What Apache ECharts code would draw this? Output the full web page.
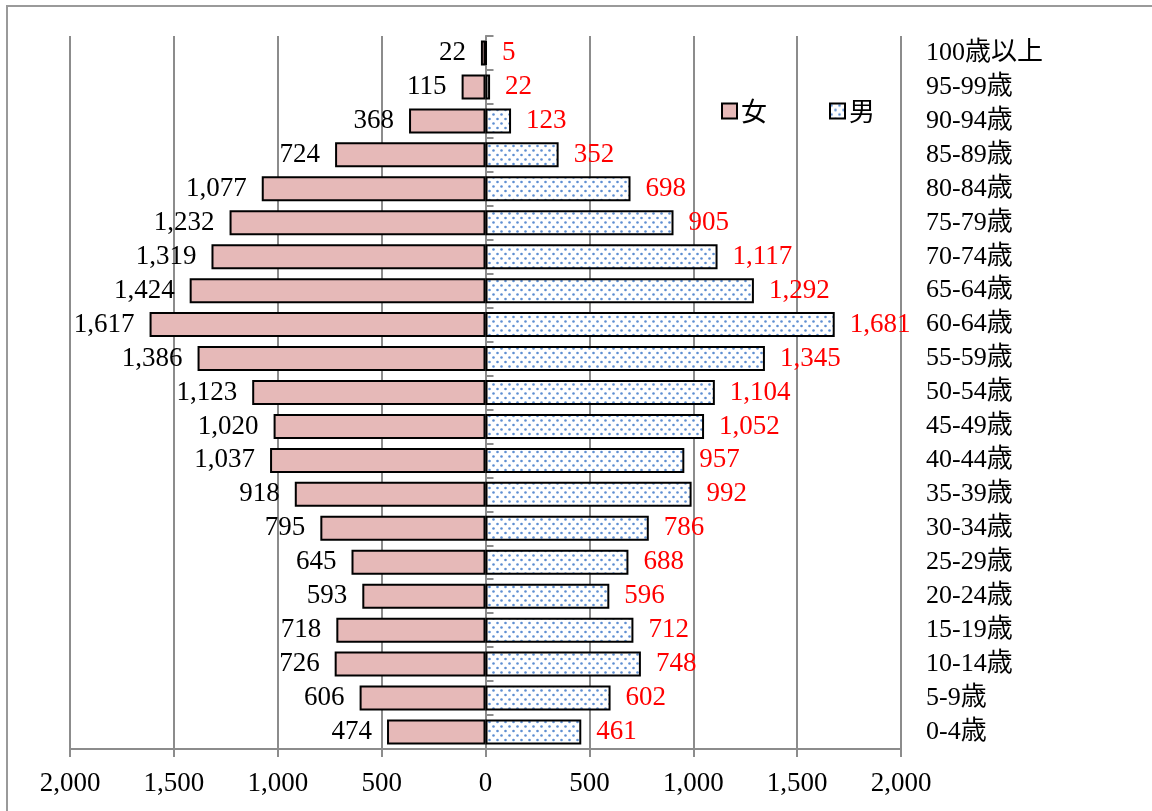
<!DOCTYPE html>
<html>
<head>
<meta charset="utf-8">
<style>
  html, body { margin: 0; padding: 0; background: #fff; }
  #chart { width: 1152px; height: 811px; }
</style>
<script src="https://cdn.jsdelivr.net/npm/echarts@6/dist/echarts.min.js"></script>
</head>
<body>
<div id="chart"></div>
<script>
// Age groups, top to bottom
const ageGroups = ["100歳以上","95-99歳","90-94歳","85-89歳","80-84歳","75-79歳","70-74歳","65-64歳","60-64歳","55-59歳","50-54歳","45-49歳","40-44歳","35-39歳","30-34歳","25-29歳","20-24歳","15-19歳","10-14歳","5-9歳","0-4歳"];
// Population by age group
const female = [22,115,368,724,1077,1232,1319,1424,1617,1386,1123,1020,1037,918,795,645,593,718,726,606,474];
const male   = [5,22,123,352,698,905,1117,1292,1681,1345,1104,1052,957,992,786,688,596,712,748,602,461];
const seriesNames = ["女", "男"];
const axisTicks = [-2000, 2000, 500];

const SERIF = "'Liberation Serif', 'Noto Sans CJK JP', serif";

function fmt(n) {
  return Math.abs(n).toString().replace(/\B(?=(\d{3})+(?!\d))/g, ',');
}

// Dotted fill for the male bars
const tile = document.createElement('canvas');
tile.width = 8; tile.height = 9;
const tctx = tile.getContext('2d');
tctx.fillStyle = '#ffffff';
tctx.fillRect(0, 0, 8, 9);
tctx.fillStyle = '#5f8fd2';
[[1.5, 2], [5.5, 6.5]].forEach(([x, y]) => {
  tctx.beginPath();
  tctx.arc(x, y, 1.3, 0, Math.PI * 2);
  tctx.fill();
});

const chart = echarts.init(document.getElementById('chart'), null, { renderer: 'canvas' });

chart.setOption({
  animation: false,
  backgroundColor: '#ffffff',
  graphic: [{
    type: 'rect',
    shape: { x: 7, y: 6, width: 1300, height: 1000 },
    style: { fill: 'none', stroke: '#9a9a9a', lineWidth: 2 },
    z: 0
  }],
  legend: {
    left: 716, top: 93,
    itemWidth: 15, itemHeight: 15,
    itemGap: 62,
    icon: 'rect',
    textStyle: { fontFamily: "'Noto Sans CJK JP', sans-serif", fontSize: 26, color: '#000', padding: [0, 0, 0, -1] },
    data: seriesNames
  },
  grid: { left: 70, right: 251, top: 36, bottom: 62, containLabel: false },
  xAxis: {
    type: 'value',
    min: axisTicks[0], max: axisTicks[1], interval: axisTicks[2],
    axisLine: { show: true, lineStyle: { color: '#8c8c8c', width: 2 } },
    axisTick: { show: true, length: 8, lineStyle: { color: '#8c8c8c', width: 2 } },
    axisLabel: { formatter: v => fmt(v), fontFamily: SERIF, fontSize: 27, color: '#000', margin: 21 },
    splitLine: { show: true, lineStyle: { color: '#8c8c8c', width: 2 } }
  },
  yAxis: [{
    type: 'category',
    data: ageGroups,
    inverse: true,
    position: 'left',
    axisLine: { show: true, onZero: true, lineStyle: { color: '#8c8c8c', width: 2 } },
    axisTick: { show: true, inside: true, length: 8, lineStyle: { color: '#8c8c8c', width: 2 } },
    axisLabel: { show: false }
  }, {
    type: 'category',
    data: ageGroups,
    inverse: true,
    position: 'right',
    axisLine: { show: false },
    axisTick: { show: false },
    axisLabel: { show: true, align: 'left', margin: 25, fontFamily: SERIF, fontSize: 26, color: '#000' }
  }],
  series: [{
    name: seriesNames[0],
    type: 'bar',
    yAxisIndex: 0,
    barWidth: 25,
    barGap: '-100%',
    data: female.map(v => -v),
    itemStyle: { color: '#e6b9b8', borderColor: '#000', borderWidth: 2 },
    label: {
      show: true, position: 'left', distance: 15,
      formatter: p => fmt(p.value),
      fontFamily: SERIF, fontSize: 27, color: '#000'
    }
  }, {
    name: seriesNames[1],
    type: 'bar',
    yAxisIndex: 0,
    barWidth: 25,
    data: male,
    itemStyle: { color: { image: tile, repeat: 'repeat' }, borderColor: '#000', borderWidth: 2 },
    label: {
      show: true, position: 'right', distance: 15,
      formatter: p => fmt(p.value),
      fontFamily: SERIF, fontSize: 27, color: '#ff0000'
    }
  }]
});
</script>
</body>
</html>
